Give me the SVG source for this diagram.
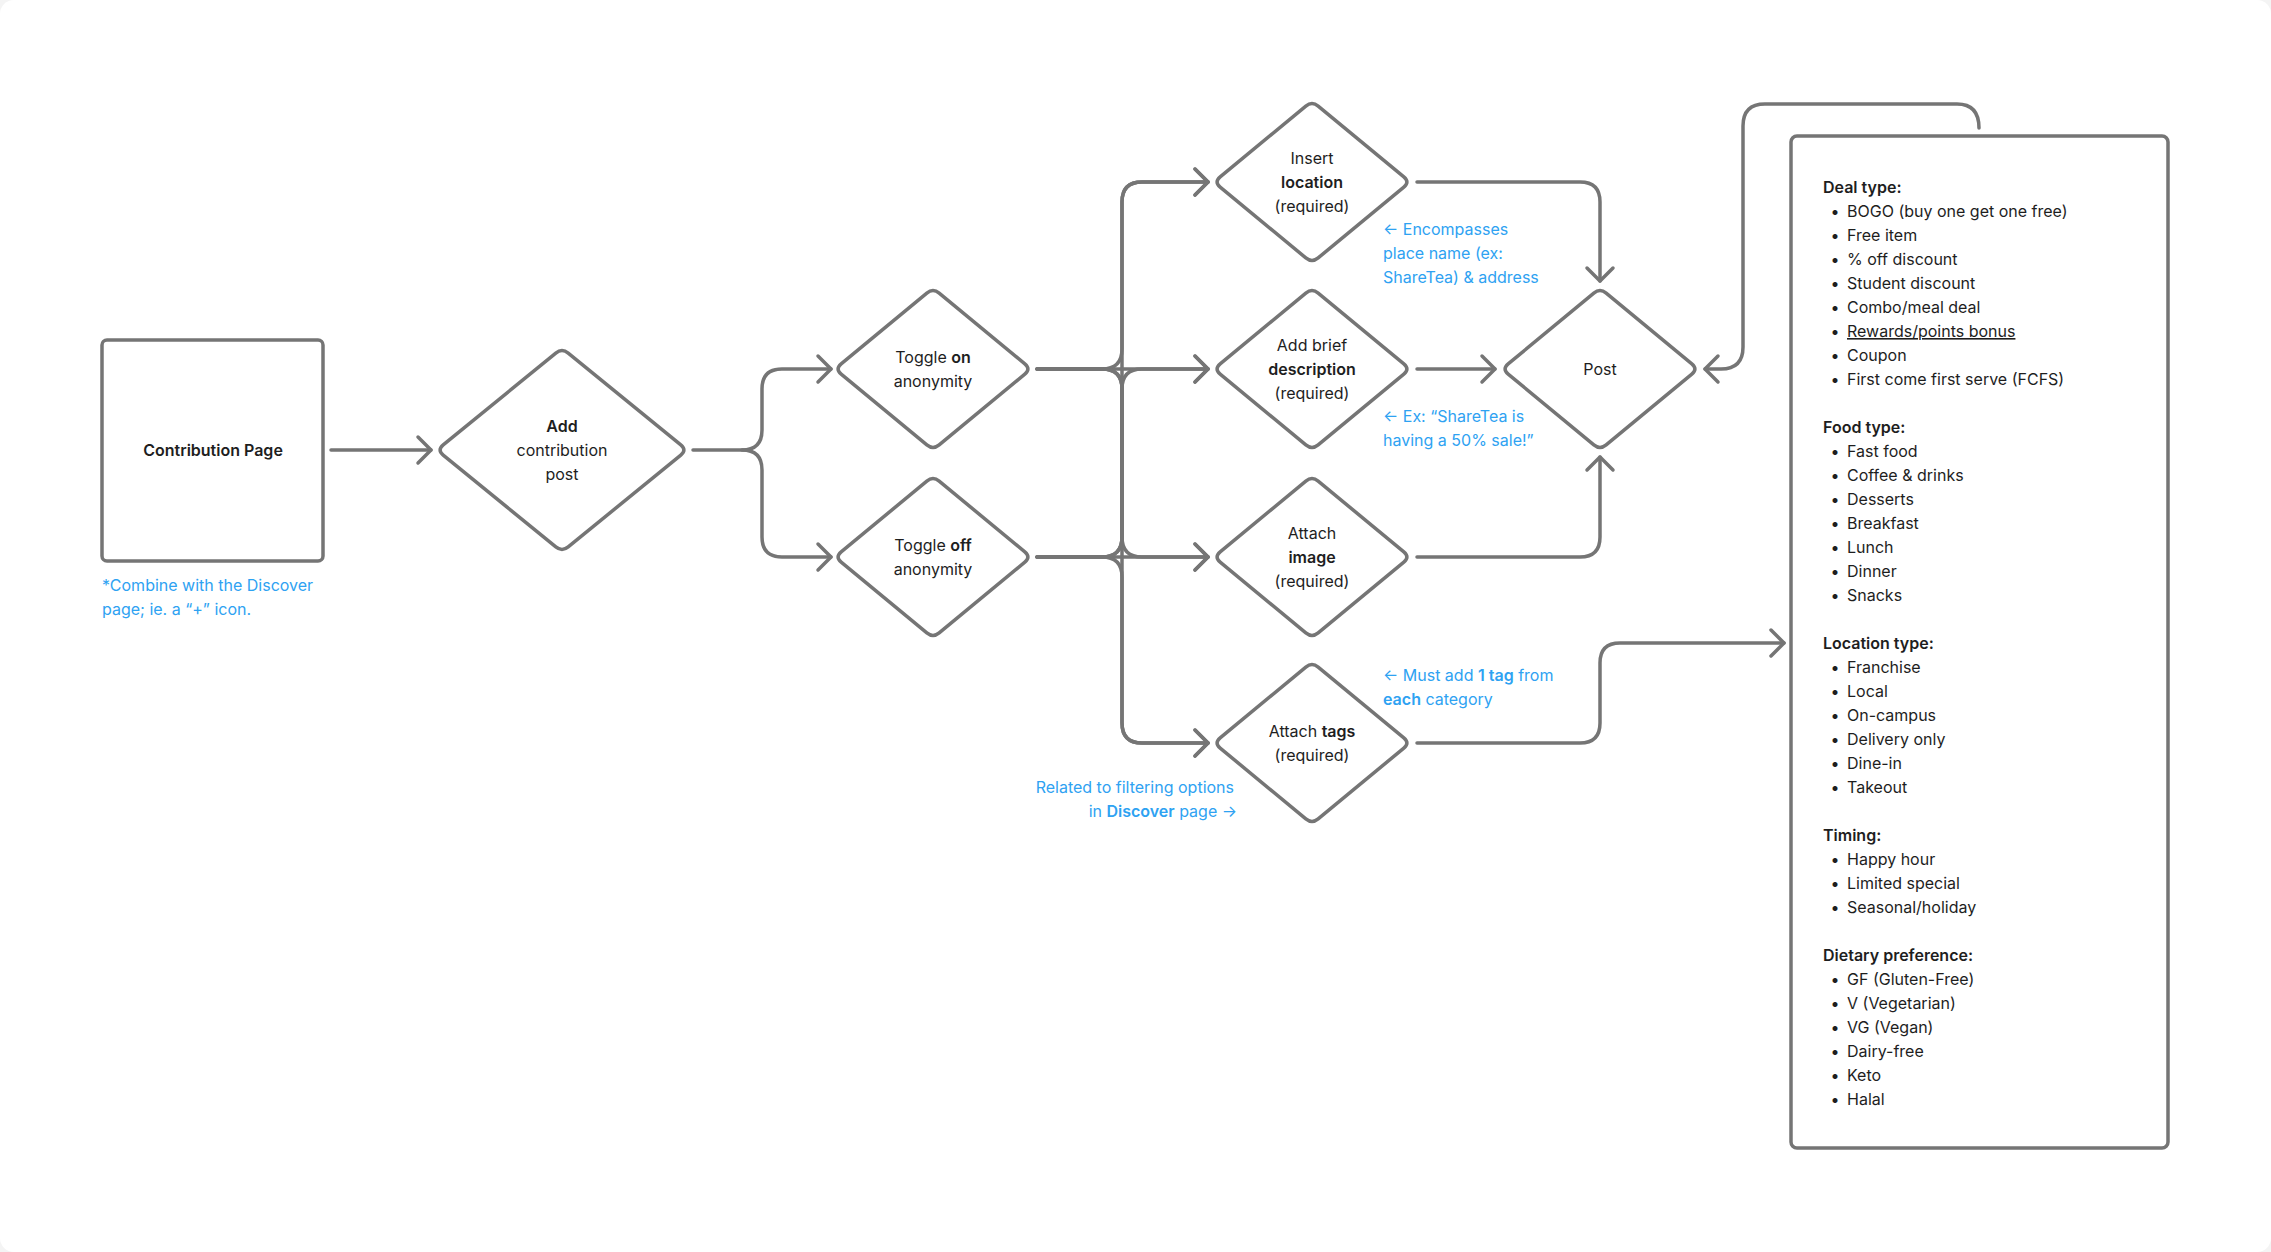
<svg xmlns="http://www.w3.org/2000/svg" xmlns:xlink="http://www.w3.org/1999/xlink" width="2271" height="1252" viewBox="0 0 2271 1252">
<style>
.ln{fill:none;stroke:#757575;stroke-width:3.5;stroke-linecap:round;stroke-linejoin:round}
.shape{fill:#ffffff;stroke:#757575;stroke-width:3.5;stroke-linejoin:round}
.t{font-family:Inter,"Noto Sans","Liberation Sans",sans-serif;font-size:16px;fill:#1e1e1e}
.c{text-anchor:middle}
.b{font-weight:600}
.n{font-family:Inter,"Noto Sans","Liberation Sans",sans-serif;font-size:16px;fill:#2ea2f2}
.l{font-family:Inter,"Noto Sans","Liberation Sans",sans-serif;font-size:16px;fill:#1e1e1e}
</style>
<defs>
<marker id="ah" markerUnits="userSpaceOnUse" markerWidth="40" markerHeight="40" viewBox="-20 -20 40 40" refX="0" refY="0" orient="auto" overflow="visible">
<path d="M -13 -13 L 0 0 L -13 13" fill="none" stroke="#757575" stroke-width="3.5" stroke-linecap="round" stroke-linejoin="round"/>
</marker>
<path id="dS" d="M -91.83 -5.1 L -6.17 -75.9 Q 0 -81 6.17 -75.9 L 91.83 -5.1 Q 98 0 91.83 5.1 L 6.17 75.9 Q 0 81 -6.17 75.9 L -91.83 5.1 Q -98 0 -91.83 -5.1 Z"/>
<path id="dL" d="M -118.8 -5.06 L -6.2 -96.94 Q 0 -102 6.2 -96.94 L 118.8 -5.06 Q 125 0 118.8 5.06 L 6.2 96.94 Q 0 102 -6.2 96.94 L -118.8 5.06 Q -125 0 -118.8 -5.06 Z"/>
</defs>
<rect x="0" y="0" width="2271" height="1252" fill="#f4f4f4"/>
<rect x="0" y="0" width="2271" height="1252" rx="14" fill="#ffffff"/>

<g id="connectors">
<path class="ln" marker-end="url(#ah)" d="M 331 450 H 431"/>
<path class="ln" marker-end="url(#ah)" d="M 693 450 H 742 Q 762 450 762 430 V 389 Q 762 369 782 369 H 831"/>
<path class="ln" marker-end="url(#ah)" d="M 742 450 Q 762 450 762 470 V 537 Q 762 557 782 557 H 831"/>
<path class="ln" marker-end="url(#ah)" d="M 1037 369 H 1208"/>
<path class="ln" marker-end="url(#ah)" d="M 1037 369 H 1102 Q 1122 369 1122 349 V 202 Q 1122 182 1142 182 H 1208"/>
<path class="ln" marker-end="url(#ah)" d="M 1037 369 H 1102 Q 1122 369 1122 389 V 537 Q 1122 557 1142 557 H 1208"/>
<path class="ln" marker-end="url(#ah)" d="M 1037 369 H 1102 Q 1122 369 1122 389 V 723 Q 1122 743 1142 743 H 1208"/>
<path class="ln" marker-end="url(#ah)" d="M 1037 557 H 1208"/>
<path class="ln" marker-end="url(#ah)" d="M 1037 557 H 1102 Q 1122 557 1122 537 V 389 Q 1122 369 1142 369 H 1208"/>
<path class="ln" marker-end="url(#ah)" d="M 1037 557 H 1102 Q 1122 557 1122 537 V 202 Q 1122 182 1142 182 H 1208"/>
<path class="ln" marker-end="url(#ah)" d="M 1037 557 H 1102 Q 1122 557 1122 577 V 723 Q 1122 743 1142 743 H 1208"/>
<path class="ln" marker-end="url(#ah)" d="M 1417 182 H 1580 Q 1600 182 1600 202 V 281"/>
<path class="ln" marker-end="url(#ah)" d="M 1417 369 H 1495"/>
<path class="ln" marker-end="url(#ah)" d="M 1417 557 H 1580 Q 1600 557 1600 537 V 457"/>
<path class="ln" marker-end="url(#ah)" d="M 1417 743 H 1580 Q 1600 743 1600 723 V 663 Q 1600 643 1620 643 H 1784"/>
<path class="ln" marker-end="url(#ah)" d="M 1979 128 Q 1979 104 1957 104 H 1765 Q 1743 104 1743 126 V 347 Q 1743 369 1721 369 H 1705"/>
</g>

<g id="contribution-page">
<rect class="shape" x="102" y="340" width="221" height="221" rx="5"/>
<text class="t c b" x="213" y="456">Contribution Page</text>
</g>
<text class="n" x="102" y="591">*Combine with the Discover</text>
<text class="n" x="102" y="615">page; ie. a “+” icon.</text>

<g id="add-post">
<use xlink:href="#dL" class="shape" x="562" y="450"/>
<text class="t c" x="562" y="432"><tspan class="b">Add</tspan></text>
<text class="t c" x="562" y="456">contribution</text>
<text class="t c" x="562" y="480">post</text>
</g>

<g id="toggle-on">
<use xlink:href="#dS" class="shape" x="933" y="369"/>
<text class="t c" x="933" y="363">Toggle <tspan class="b">on</tspan></text>
<text class="t c" x="933" y="387">anonymity</text>
</g>

<g id="toggle-off">
<use xlink:href="#dS" class="shape" x="933" y="557"/>
<text class="t c" x="933" y="551">Toggle <tspan class="b">off</tspan></text>
<text class="t c" x="933" y="575">anonymity</text>
</g>

<g id="insert-location">
<use xlink:href="#dS" class="shape" x="1312" y="182"/>
<text class="t c" x="1312" y="164">Insert</text>
<text class="t c b" x="1312" y="188">location</text>
<text class="t c" x="1312" y="212">(required)</text>
</g>
<text class="n" x="1383" y="235">← Encompasses</text>
<text class="n" x="1383" y="259">place name (ex:</text>
<text class="n" x="1383" y="283">ShareTea) &amp; address</text>

<g id="add-description">
<use xlink:href="#dS" class="shape" x="1312" y="369"/>
<text class="t c" x="1312" y="351">Add brief</text>
<text class="t c b" x="1312" y="375">description</text>
<text class="t c" x="1312" y="399">(required)</text>
</g>
<text class="n" x="1383" y="422">← Ex: “ShareTea is</text>
<text class="n" x="1383" y="446">having a 50% sale!”</text>

<g id="attach-image">
<use xlink:href="#dS" class="shape" x="1312" y="557"/>
<text class="t c" x="1312" y="539">Attach</text>
<text class="t c b" x="1312" y="563">image</text>
<text class="t c" x="1312" y="587">(required)</text>
</g>

<g id="attach-tags">
<use xlink:href="#dS" class="shape" x="1312" y="743"/>
<text class="t c" x="1312" y="737">Attach <tspan class="b">tags</tspan></text>
<text class="t c" x="1312" y="761">(required)</text>
</g>
<text class="n" x="1383" y="681">← Must add <tspan class="b">1 tag</tspan> from</text>
<text class="n" x="1383" y="705"><tspan class="b">each</tspan> category</text>
<text class="n" x="1234" y="793" text-anchor="end">Related to filtering options</text>
<text class="n" x="1237" y="817" text-anchor="end">in <tspan class="b">Discover</tspan> page →</text>

<g id="post">
<use xlink:href="#dS" class="shape" x="1600" y="369"/>
<text class="t c" x="1600" y="375">Post</text>
</g>

<g id="tag-categories">
<rect class="shape" x="1791" y="136" width="377" height="1012" rx="6"/>
<g class="l">
<text class="b" x="1823" y="193">Deal type:</text>
<text x="1847" y="217">BOGO (buy one get one free)</text>
<text x="1847" y="241">Free item</text>
<text x="1847" y="265">% off discount</text>
<text x="1847" y="289">Student discount</text>
<text x="1847" y="313">Combo/meal deal</text>
<text x="1847" y="337" text-decoration="underline">Rewards/points bonus</text>
<text x="1847" y="361">Coupon</text>
<text x="1847" y="385">First come first serve (FCFS)</text>
<text class="b" x="1823" y="433">Food type:</text>
<text x="1847" y="457">Fast food</text>
<text x="1847" y="481">Coffee &amp; drinks</text>
<text x="1847" y="505">Desserts</text>
<text x="1847" y="529">Breakfast</text>
<text x="1847" y="553">Lunch</text>
<text x="1847" y="577">Dinner</text>
<text x="1847" y="601">Snacks</text>
<text class="b" x="1823" y="649">Location type:</text>
<text x="1847" y="673">Franchise</text>
<text x="1847" y="697">Local</text>
<text x="1847" y="721">On-campus</text>
<text x="1847" y="745">Delivery only</text>
<text x="1847" y="769">Dine-in</text>
<text x="1847" y="793">Takeout</text>
<text class="b" x="1823" y="841">Timing:</text>
<text x="1847" y="865">Happy hour</text>
<text x="1847" y="889">Limited special</text>
<text x="1847" y="913">Seasonal/holiday</text>
<text class="b" x="1823" y="961">Dietary preference:</text>
<text x="1847" y="985">GF (Gluten-Free)</text>
<text x="1847" y="1009">V (Vegetarian)</text>
<text x="1847" y="1033">VG (Vegan)</text>
<text x="1847" y="1057">Dairy-free</text>
<text x="1847" y="1081">Keto</text>
<text x="1847" y="1105">Halal</text>
</g>
<g class="l" text-anchor="middle">
<text x="1835" y="217">•</text><text x="1835" y="241">•</text><text x="1835" y="265">•</text><text x="1835" y="289">•</text><text x="1835" y="313">•</text><text x="1835" y="337">•</text><text x="1835" y="361">•</text><text x="1835" y="385">•</text>
<text x="1835" y="457">•</text><text x="1835" y="481">•</text><text x="1835" y="505">•</text><text x="1835" y="529">•</text><text x="1835" y="553">•</text><text x="1835" y="577">•</text><text x="1835" y="601">•</text>
<text x="1835" y="673">•</text><text x="1835" y="697">•</text><text x="1835" y="721">•</text><text x="1835" y="745">•</text><text x="1835" y="769">•</text><text x="1835" y="793">•</text>
<text x="1835" y="865">•</text><text x="1835" y="889">•</text><text x="1835" y="913">•</text>
<text x="1835" y="985">•</text><text x="1835" y="1009">•</text><text x="1835" y="1033">•</text><text x="1835" y="1057">•</text><text x="1835" y="1081">•</text><text x="1835" y="1105">•</text>
</g>
</g>
</svg>
